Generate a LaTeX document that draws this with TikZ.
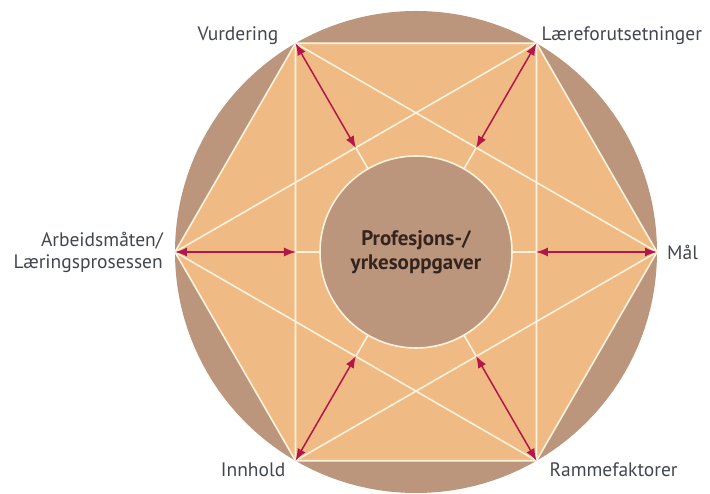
\documentclass[tikz,border=0pt]{standalone}
\usepackage{fontspec}
\setmainfont{PT Sans}
\usepackage{xcolor}
\usepackage{tikz}
\usetikzlibrary{calc}
\usetikzlibrary{arrows.meta}
\usetikzlibrary{positioning}

\definecolor{ytre}{RGB}{188,150,124}
\definecolor{sekskant}{RGB}{240,186,132}
\definecolor{linje}{RGB}{255,243,222}
\definecolor{pilfarge}{RGB}{180,22,72}
\definecolor{tekst}{RGB}{66,70,78}
\definecolor{midttekst}{RGB}{52,36,30}

\begin{document}
\begin{tikzpicture}[
    x=1pt, y=1pt,
    >={Latex[length=12pt,width=9pt]},
    hvit/.style={draw=linje, line width=1.6pt},
    pil/.style={<->, pilfarge, line width=1.5pt},
    etikett/.style={font=\fontsize{19.5}{22}\selectfont, text=tekst, inner sep=1pt}
]
    \useasboundingbox (-416,-242) rectangle (294,252);

    % Radier
    \def\Rut{241}
    \def\Rinn{96}
    \def\Rtri{120}
    \coordinate (O) at (0,0);

    % Ytre sirkel
    \fill[ytre] (O) circle (\Rut);

    % Hjoerner, indre punkter
    \foreach \n/\a in {mal/0, laer/60, vur/120, arb/180, inn/240, ramme/300}{
        \coordinate (\n) at (\a:\Rut);
        \coordinate (\n-i) at (\a:\Rtri);
        \coordinate (\n-s) at (\a:\Rinn);
    }

    % Sekskant
    \filldraw[fill=sekskant, hvit] (mal) -- (laer) -- (vur) -- (arb) -- (inn) -- (ramme) -- cycle;

    % Trekanter (stjerne)
    \draw[hvit] (vur) -- (mal) -- (inn) -- cycle;
    \draw[hvit] (laer) -- (arb) -- (ramme) -- cycle;

    % Korte linjer mot midten
    \foreach \n in {mal, laer, vur, arb, inn, ramme}
        \draw[hvit] (\n-s) -- (\n-i);

    % Indre sirkel
    \filldraw[fill=ytre, hvit] (O) circle (\Rinn);
    \node[font=\fontsize{21}{24}\selectfont\bfseries, text=midttekst, align=center] (midt) at (0,0) {Profesjons-/\\yrkesoppgaver};

    % Piler
    \foreach \n in {mal, laer, vur, arb, inn, ramme}
        \draw[pil] (\n) -- (\n-i);

    % Etiketter
    \node[etikett, anchor=east] (vurdering) at ([shift={(-16,8)}]vur) {Vurdering};
    \node[etikett, anchor=west] (laereforutsetninger) at ([shift={(4,8)}]laer) {Læreforutsetninger};
    \node[etikett, anchor=west] (maal) at ([shift={(9,0)}]mal) {Mål};
    \node[etikett, anchor=east, align=right] (arbeidsmaaten) at ([shift={(-11,0)}]arb) {Arbeidsmåten/\\Læringsprosessen};
    \node[etikett, anchor=east] (innhold) at ([shift={(-9,-9)}]inn) {Innhold};
    \node[etikett, anchor=west] (rammefaktorer) at ([shift={(12,-9)}]ramme) {Rammefaktorer};

\end{tikzpicture}
\end{document}
